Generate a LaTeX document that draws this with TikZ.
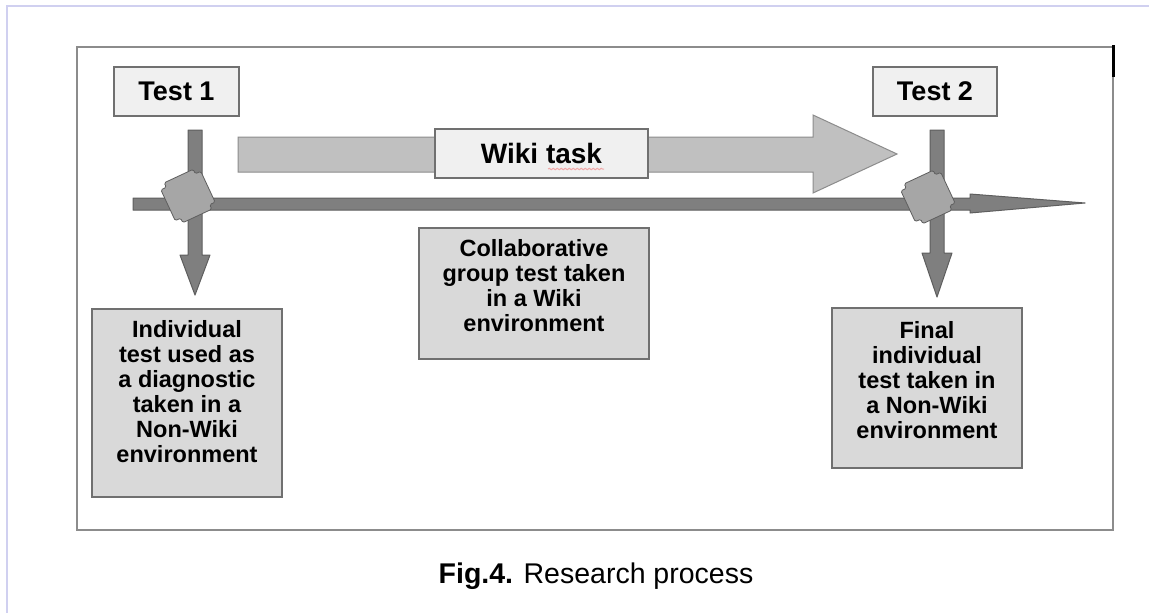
\documentclass[tikz,border=0pt]{standalone}
\usepackage{fontspec}
\setmainfont{Liberation Sans}
\usetikzlibrary{decorations.pathmorphing}
\definecolor{lavline}{HTML}{D0D0F0}
\definecolor{framegray}{HTML}{8C8C8C}
\definecolor{lightbox}{HTML}{F0F0F0}
\definecolor{midbox}{HTML}{D9D9D9}
\definecolor{boxedge}{HTML}{707070}
\definecolor{darkfill}{HTML}{7F7F7F}
\definecolor{darkedge}{HTML}{5E5E5E}
\definecolor{wikifill}{HTML}{C0C0C0}
\definecolor{crossfill}{HTML}{A6A6A6}
\definecolor{squiggle}{HTML}{F0A8A8}
\tikzset{
  labelbox/.style={draw=boxedge, fill=lightbox, line width=1.5pt, inner sep=0pt,
     font=\fontsize{27}{30}\selectfont\bfseries},
  bodybox/.style={draw=boxedge, fill=midbox, line width=1.5pt, inner sep=0pt},
  bodytext/.style={align=center, inner sep=0pt, font=\fontsize{23.5}{25}\selectfont\bfseries},
  darkarrow/.style={fill=darkfill, draw=darkedge, line width=1pt, line join=round},
  wikiarrow/.style={fill=wikifill, draw=framegray, line width=1pt},
  crossshape/.style={fill=crossfill, draw=darkedge, line width=0.8pt, line join=round, rounded corners=1.5pt},
}
\begin{document}
\begin{tikzpicture}[x=1pt,y=-1pt]
\useasboundingbox (0,0) rectangle (1149,613);
\fill[white] (0,0) rectangle (1149,613);
% page borders
\draw[lavline, line width=2pt] (7,613) -- (7,6) -- (1149,6);
\draw[framegray, line width=2pt] (77,47) rectangle (1113,530);
\draw[black, line width=3pt] (1113,45) -- (1113,77);

% Wiki task block arrow
\draw[wikiarrow] (238,137) -- (813,137) -- (813,115) -- (897,154) -- (813,193) -- (813,172) -- (238,172) -- cycle;

% vertical arrows
\draw[darkarrow] (188,130) -- (202,130) -- (202,255) -- (210,255) -- (195,295) -- (180,255) -- (188,255) -- cycle;
\draw[darkarrow] (930,130) -- (944,130) -- (944,253) -- (952,253) -- (937,297) -- (922,253) -- (930,253) -- cycle;

% timeline
\draw[darkarrow] (133,198) -- (970,198) -- (970,194) -- (1085,203) -- (970,213) -- (970,210) -- (133,210) -- cycle;

% crossing pieces
\foreach \cx/\cy in {188/196, 928/197} {
  \draw[crossshape, shift={(\cx,\cy)}, rotate=25]
    (16,-22) -- (16,-17) -- (22,-17) -- (22,17) -- (16,17) -- (16,22)
    -- (-16,22) -- (-16,17) -- (-22,17) -- (-22,-17) -- (-16,-17) -- (-16,-22) -- cycle;
}

% label boxes
\node[labelbox, minimum width=125pt, minimum height=49pt] (test1) at (176.5,91.5) {Test 1};
\node[labelbox, minimum width=124pt, minimum height=49pt] (test2) at (935,91.5) {Test 2};
\node[labelbox, minimum width=213pt, minimum height=49pt, font=\fontsize{28}{30}\selectfont\bfseries] (wiki) at (541.5,153.5) {Wiki task};
\draw[squiggle, line width=1pt, decorate, decoration={snake, amplitude=0.7pt, segment length=4pt}] (548,169) -- (604,169);

% body boxes
\node[bodybox, minimum width=190pt, minimum height=188pt] (diag) at (187,403) {};
\node[bodytext, anchor=north] (diagtext) at (187,320) {Individual\\test used as\\a diagnostic\\taken in a\\Non-Wiki\\environment};

\node[bodybox, minimum width=230pt, minimum height=131pt] (collab) at (534,293.5) {};
\node[bodytext, anchor=north] (collabtext) at (534,239) {Collaborative\\group test taken\\in a Wiki\\environment};

\node[bodybox, minimum width=190pt, minimum height=160pt] (final) at (927,388) {};
\node[bodytext, anchor=north] (finaltext) at (927,321) {Final\\individual\\test taken in\\a Non-Wiki\\environment};

% caption
\node[anchor=base, inner sep=0pt, font=\fontsize{28.5}{30}\selectfont] (caption) at (596,583) {\textbf{Fig.4.} Research process};
\end{tikzpicture}
\end{document}
